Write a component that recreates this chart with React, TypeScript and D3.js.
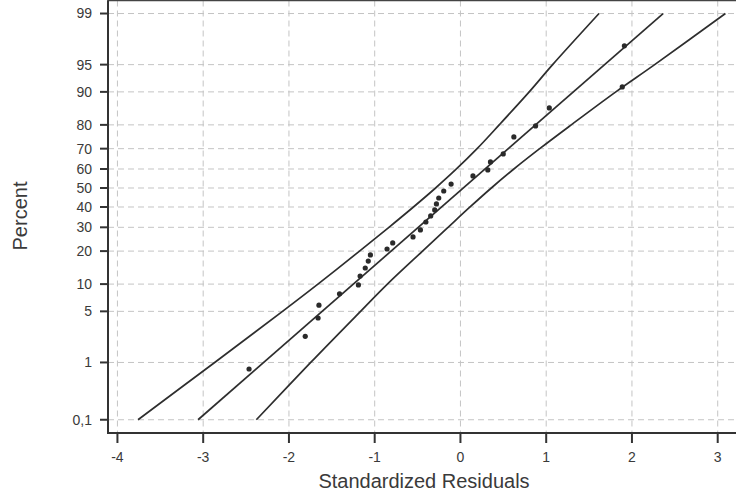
import React from 'react';
import * as d3 from 'd3';

const percentTicks = [0.1, 1, 5, 10, 20, 30, 40, 50, 60, 70, 80, 90, 95, 99];
const percentLabels = ['0,1', '1', '5', '10', '20', '30', '40', '50', '60', '70', '80', '90', '95', '99'];
const residualTicks = [-4, -3, -2, -1, 0, 1, 2, 3];

const pointResiduals = [
  -2.465, -1.81, -1.66, -1.65, -1.41, -1.19, -1.17, -1.11, -1.075, -1.05,
  -0.856, -0.79, -0.553, -0.467, -0.403, -0.347, -0.3, -0.28, -0.253, -0.195,
  -0.109, 0.146, 0.319, 0.35, 0.499, 0.623, 0.876, 1.036, 1.887, 1.912,
];
const pointPercents = [
  0.79, 2.4, 4.15, 5.9, 7.9, 9.8, 12.0, 14.3, 16.5, 18.6,
  20.8, 23.2, 25.7, 28.8, 32.5, 35.5, 38.5, 41.6, 44.7, 48.4,
  52.1, 56.4, 59.5, 63.6, 67.5, 75.2, 79.6, 85.7, 91.1, 97.1,
];

const bandPercents = [0.1, 1, 5, 10, 20, 30, 40, 50, 60, 70, 80, 90, 95, 99];
const upperBand = [-3.76, -2.866, -2.075, -1.662, -1.177, -0.834, -0.548, -0.29, -0.047, 0.194, 0.452, 0.802, 1.075, 1.616];
const lowerBand = [-2.38, -1.746, -1.165, -0.852, -0.442, -0.144, 0.112, 0.36, 0.623, 0.924, 1.292, 1.812, 2.265, 3.09];

const fitPercents = [0.1, 99];
const fitResiduals = [-3.06, 2.363];

// inverse standard normal CDF (Acklam)
function probit(p: number): number {
  const a = [-3.969683028665376e1, 2.209460984245205e2, -2.759285104469687e2, 1.38357751867269e2, -3.066479806614716e1, 2.506628277459239];
  const b = [-5.447609879822406e1, 1.615858368580409e2, -1.556989798598866e2, 6.680131188771972e1, -1.328068155288572e1];
  const c = [-7.784894002430293e-3, -3.223964580411365e-1, -2.400758277161838, -2.549732539343734, 4.374664141464968, 2.938163982698783];
  const d = [7.784695709041462e-3, 3.224671290700398e-1, 2.445134137142996, 3.754408661907416];
  const pl = 0.02425;
  if (p < pl) {
    const q = Math.sqrt(-2 * Math.log(p));
    return (((((c[0] * q + c[1]) * q + c[2]) * q + c[3]) * q + c[4]) * q + c[5]) / ((((d[0] * q + d[1]) * q + d[2]) * q + d[3]) * q + 1);
  }
  if (p > 1 - pl) {
    const q = Math.sqrt(-2 * Math.log(1 - p));
    return -(((((c[0] * q + c[1]) * q + c[2]) * q + c[3]) * q + c[4]) * q + c[5]) / ((((d[0] * q + d[1]) * q + d[2]) * q + d[3]) * q + 1);
  }
  const q = p - 0.5;
  const r = q * q;
  return ((((((a[0] * r + a[1]) * r + a[2]) * r + a[3]) * r + a[4]) * r + a[5]) * q) / (((((b[0] * r + b[1]) * r + b[2]) * r + b[3]) * r + b[4]) * r + 1);
}

const W = 736;
const H = 501;
const left = 108;
const right = 740;
const top = 0.5;
const bottom = 433;

export default function App() {
  const x = d3.scaleLinear().domain([-4.11, 3.26]).range([left, right]);
  const zScale = d3.scaleLinear().domain([-3.267, 2.5]).range([bottom, top]);
  const y = (pct: number) => zScale(probit(pct / 100));

  const bandLine = d3
    .line<number>()
    .x((r) => x(r))
    .y((_, i) => y(bandPercents[i]))
    .curve(d3.curveCatmullRom.alpha(0.5));

  const fitLine = d3
    .line<number>()
    .x((r) => x(r))
    .y((_, i) => y(fitPercents[i]));

  const textColor = '#3a3a3a';
  const gridColor = '#c4c4c4';
  const font = 'Liberation Sans, Arial, Helvetica, sans-serif';

  return (
    <svg width={W} height={H} style={{ position: 'absolute', left: 0, top: 0, background: '#fff' }} fontFamily={font}>
      <defs>
        <clipPath id="plot">
          <rect x={left} y={top} width={right - left} height={bottom - top} />
        </clipPath>
      </defs>
      {/* grid */}
      <g stroke={gridColor} strokeWidth={1} strokeDasharray="6,4" fill="none">
        {residualTicks.map((t) => (
          <line key={'vx' + t} x1={x(t)} x2={x(t)} y1={top} y2={bottom} />
        ))}
        {percentTicks.map((p) => (
          <line key={'hy' + p} x1={left} x2={right} y1={y(p)} y2={y(p)} />
        ))}
      </g>
      {/* lines */}
      <g clipPath="url(#plot)" fill="none" stroke="#2e2e2e" strokeWidth={1.7}>
        <path d={bandLine(upperBand) || ''} />
        <path d={bandLine(lowerBand) || ''} />
        <path d={fitLine(fitResiduals) || ''} />
      </g>
      {/* points */}
      <g fill="#2a2a2a">
        {pointResiduals.map((r, i) => (
          <circle key={'pt' + i} cx={x(r)} cy={y(pointPercents[i])} r={2.6} />
        ))}
      </g>
      {/* frame */}
      <rect x={left} y={top} width={right - left} height={bottom - top} fill="none" stroke="#444" strokeWidth={1.5} />
      <line x1={left} x2={left} y1={top} y2={bottom + 1} stroke="#333" strokeWidth={2} />
      <line x1={left - 1} x2={right} y1={bottom} y2={bottom} stroke="#333" strokeWidth={2} />
      {/* ticks */}
      <g stroke="#333" strokeWidth={2}>
        {percentTicks.map((p) => (
          <line key={'yt' + p} x1={left - 8} x2={left} y1={y(p)} y2={y(p)} />
        ))}
        {residualTicks.map((t) => (
          <line key={'xt' + t} x1={x(t)} x2={x(t)} y1={bottom} y2={bottom + 10} />
        ))}
      </g>
      <g fill={textColor} fontSize={14} textAnchor="end">
        {percentTicks.map((p, i) => (
          <text key={'yl' + p} x={left - 16} y={y(p)} dy="0.35em">
            {percentLabels[i]}
          </text>
        ))}
      </g>
      <g fill={textColor} fontSize={14} textAnchor="middle">
        {residualTicks.map((t) => (
          <text key={'xl' + t} x={x(t)} y={461.5}>
            {String(t)}
          </text>
        ))}
      </g>
      <text x={(left + right) / 2} y={488} fontSize={20} textAnchor="middle" fill={textColor}>
        Standardized Residuals
      </text>
      <text transform="translate(27,216) rotate(-90)" fontSize={20} textAnchor="middle" fill={textColor}>
        Percent
      </text>
    </svg>
  );
}
